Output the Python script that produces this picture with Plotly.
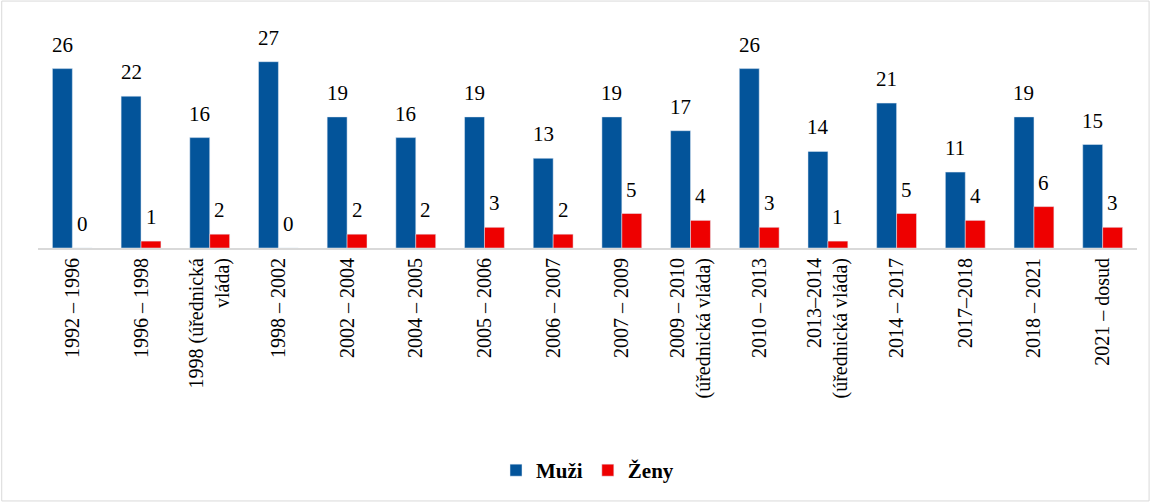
import plotly.graph_objects as go

obdobi = ["1992 – 1996", "1996 – 1998", "1998 (úřednická<br>vláda)", "1998 – 2002",
          "2002 – 2004", "2004 – 2005", "2005 – 2006", "2006 – 2007", "2007 – 2009",
          "2009 – 2010<br>(úřednická vláda)", "2010 – 2013", "2013–2014<br>(úřednická vláda)",
          "2014 – 2017", "2017–2018", "2018 – 2021", "2021 – dosud"]
muzi = [26, 22, 16, 27, 19, 16, 19, 13, 19, 17, 26, 14, 21, 11, 19, 15]
zeny = [0, 1, 2, 0, 2, 2, 3, 2, 5, 4, 3, 1, 5, 4, 6, 3]

FONT = "Times New Roman"
BLUE = "#03549A"
RED = "#EE0000"

fig = go.Figure()
fig.add_trace(go.Bar(name="Muži", x=obdobi, y=muzi, marker_color=BLUE))
fig.add_trace(go.Bar(name="Ženy", x=obdobi, y=zeny, marker_color=RED))

# popisky hodnot nad sloupci
for cat, m, z in zip(obdobi, muzi, zeny):
    fig.add_annotation(x=cat, y=m, text=str(m), showarrow=False, xshift=-10,
                       yanchor="bottom", yshift=10, font=dict(size=21, family=FONT, color="black"))
    fig.add_annotation(x=cat, y=z, text=str(z), showarrow=False, xshift=10,
                       yanchor="bottom", yshift=10, font=dict(size=21, family=FONT, color="black"))

fig.update_layout(
    width=1151, height=502,
    barmode="group", bargap=0.42, bargroupgap=0,
    plot_bgcolor="white", paper_bgcolor="white",
    margin=dict(l=38, r=14, t=41, b=254, autoexpand=False),
    font=dict(family=FONT, size=20, color="black"),
    showlegend=True,
    legend=dict(orientation="h", x=0.5, xanchor="center", y=-1.075, yanchor="middle",
                font=dict(size=21, family=FONT, weight="bold"),
                itemwidth=30, tracegroupgap=0),
    shapes=[dict(type="rect", xref="paper", yref="paper", x0=-0.033, x1=1.011,
                 y0=-1.222, y1=1.193, line=dict(color="#d9d9d9", width=1))],
)
fig.update_xaxes(showline=True, linecolor="#d9d9d9", linewidth=2, tickangle=-90,
                 ticks="", automargin=False,
                 tickfont=dict(size=20, family=FONT, color="black"))
fig.update_yaxes(visible=False, range=[0, 30], showgrid=False, automargin=False)

fig.write_html("out.html", config={"displayModeBar": False},
               post_script="document.body.style.margin='0';")
